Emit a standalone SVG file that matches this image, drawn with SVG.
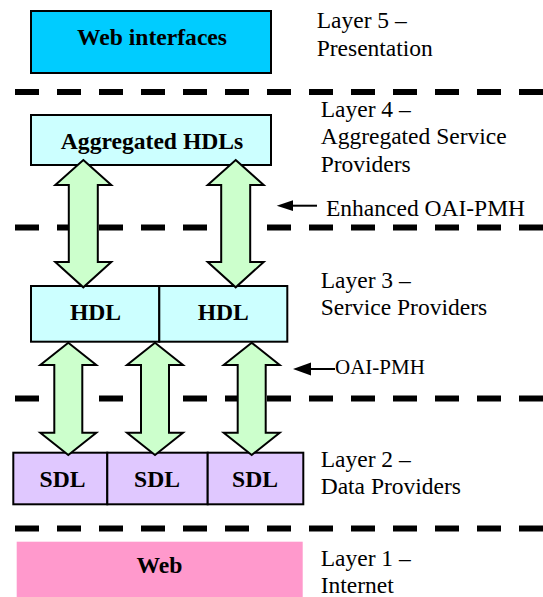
<svg xmlns="http://www.w3.org/2000/svg" width="543" height="597" viewBox="0 0 543 597">
<style>
.box{stroke:#000;stroke-width:2}
.bt{font-family:'Liberation Serif','Times New Roman',Times,'DejaVu Serif',serif;font-weight:bold;font-size:23.6px;text-anchor:middle;fill:#000}
.lt{font-family:'Liberation Serif','Times New Roman',Times,'DejaVu Serif',serif;font-size:23.5px;fill:#000}
.dash{stroke:#000;stroke-width:6;stroke-dasharray:24 18;fill:none}
.arr{fill:#CCFFCC;stroke:#000;stroke-width:2;stroke-linejoin:miter}
.pl{stroke:#000;stroke-width:2;fill:none}
</style>
<rect width="543" height="597" fill="#fff"/>
<g id="separators">
<line class="dash" x1="15" y1="92" x2="543" y2="92"/>
<line class="dash" x1="15" y1="227.5" x2="543" y2="227.5"/>
<line class="dash" x1="15" y1="398.5" x2="543" y2="398.5"/>
<line class="dash" x1="15" y1="528.5" x2="543" y2="528.5"/>
</g>
<g id="web-interfaces">
<rect class="box" x="31" y="11" width="240" height="62" fill="#00CCFF"/>
<text class="bt" x="152" y="45">Web interfaces</text>
</g>
<g id="aggregated-hdls">
<rect class="box" x="31" y="115" width="240" height="50" fill="#CCFFFF"/>
<text class="bt" x="152" y="149">Aggregated HDLs</text>
</g>
<g id="hdl-1">
<rect class="box" x="31" y="286" width="128.3" height="55.7" fill="#CCFFFF"/>
<text class="bt" x="95.5" y="320">HDL</text>
</g>
<g id="hdl-2">
<rect class="box" x="159.3" y="286" width="128" height="55.7" fill="#CCFFFF"/>
<text class="bt" x="223.3" y="320">HDL</text>
</g>
<g id="sdl-1">
<rect class="box" x="13.3" y="452.7" width="94" height="51.6" fill="#E0C8FF"/>
<text class="bt" x="62.5" y="486.7">SDL</text>
</g>
<g id="sdl-2">
<rect class="box" x="107.3" y="452.7" width="100.4" height="51.6" fill="#E0C8FF"/>
<text class="bt" x="157" y="486.7">SDL</text>
</g>
<g id="sdl-3">
<rect class="box" x="207.7" y="452.7" width="95.6" height="51.6" fill="#E0C8FF"/>
<text class="bt" x="255" y="486.7">SDL</text>
</g>
<g id="web">
<rect x="16.7" y="541.7" width="286" height="60" fill="#FF99CC"/>
<text class="bt" x="159.5" y="573.3">Web</text>
</g>
<g id="connectors">
<path class="arr" transform="translate(83.3,160)" d="M0,0 L28,25 L14.5,25 L14.5,102 L28,102 L0,127.3 L-28,102 L-14.5,102 L-14.5,25 L-28,25 Z"/>
<path class="arr" transform="translate(235.7,160)" d="M0,0 L28,25 L14.5,25 L14.5,102 L28,102 L0,127.3 L-28,102 L-14.5,102 L-14.5,25 L-28,25 Z"/>
<path class="arr" transform="translate(68.3,342.7)" d="M0,0 L28,22.3 L14,22.3 L14,90 L28,90 L0,112.3 L-28,90 L-14,90 L-14,22.3 L-28,22.3 Z"/>
<path class="arr" transform="translate(155,342.7)" d="M0,0 L28,22.3 L14,22.3 L14,90 L28,90 L0,112.3 L-28,90 L-14,90 L-14,22.3 L-28,22.3 Z"/>
<path class="arr" transform="translate(251.7,342.7)" d="M0,0 L28,22.3 L14,22.3 L14,90 L28,90 L0,112.3 L-28,90 L-14,90 L-14,22.3 L-28,22.3 Z"/>
<line class="pl" x1="290" y1="205.7" x2="317" y2="205.7"/>
<path d="M276.7,205.7 L293,200.3 L293,211.1 Z" fill="#000"/>
<line class="pl" x1="305" y1="369" x2="335" y2="369"/>
<path d="M293,369 L311,362.5 L311,375.5 Z" fill="#000"/>
</g>
<g id="labels">
<text class="lt" x="316.7" y="28.3">Layer 5 –</text>
<text class="lt" x="316.7" y="56">Presentation</text>
<text class="lt" x="320.7" y="116.7">Layer 4 –</text>
<text class="lt" x="320.7" y="144">Aggregated Service</text>
<text class="lt" x="320.7" y="171.7">Providers</text>
<text class="lt" x="326" y="216">Enhanced OAI-PMH</text>
<text class="lt" x="320.7" y="288.3">Layer 3 –</text>
<text class="lt" x="320.7" y="315">Service Providers</text>
<text class="lt" x="335" y="374" style="font-size:21px">OAI-PMH</text>
<text class="lt" x="320.7" y="466.7">Layer 2 –</text>
<text class="lt" x="320.7" y="494">Data Providers</text>
<text class="lt" x="320.7" y="566">Layer 1 –</text>
<text class="lt" x="320.7" y="593">Internet</text>
</g>
</svg>
